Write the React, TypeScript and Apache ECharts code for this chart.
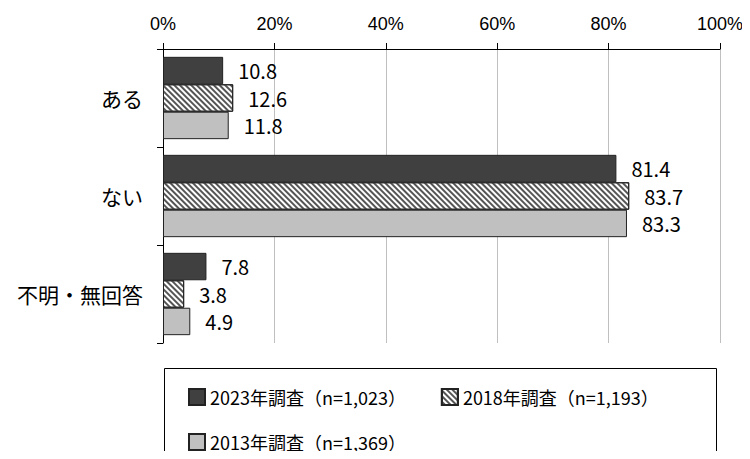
import React, { useEffect, useRef } from "react";
import * as echarts from "echarts";

const categories = ["ある", "ない", "不明・無回答"];
const seriesNames = ["2023年調査（n=1,023）", "2018年調査（n=1,193）", "2013年調査（n=1,369）"];
const values2023 = [10.8, 81.4, 7.8];
const values2018 = [12.6, 83.7, 3.8];
const values2013 = [11.8, 83.3, 4.9];
const xTicks = [0, 20, 40, 60, 80, 100];

const NARROW = '"Liberation Sans Narrow", "Arial Narrow", "Liberation Sans", sans-serif';
const JP = '"Noto Sans CJK JP", sans-serif';

export default function App() {
  const ref = useRef<HTMLDivElement>(null);
  useEffect(() => {
    if (!ref.current) return;
    const chart = echarts.init(ref.current, null, { renderer: "svg" });
    const label = {
      show: true,
      position: "right",
      distance: 15,
      color: "#000",
      fontSize: 20,
      fontFamily: JP,
      formatter: (p: any) => Number(p.value).toFixed(1),
    };
    const border = { borderColor: "#222", borderWidth: 1 };
    const legendText = { color: "#000", fontSize: 18, fontFamily: JP };
    chart.setOption({
      animation: false,
      backgroundColor: "#fff",
      grid: { left: 163, right: 30, top: 49, bottom: 116, containLabel: false },
      xAxis: {
        type: "value",
        position: "top",
        min: xTicks[0],
        max: xTicks[xTicks.length - 1],
        interval: 20,
        axisLine: { show: true, lineStyle: { color: "#000", width: 1 } },
        axisTick: { show: true, length: 6, lineStyle: { color: "#000" } },
        axisLabel: { formatter: "{value}%", color: "#000", fontSize: 18, fontFamily: NARROW, margin: 16 },
        splitLine: { show: true, lineStyle: { color: "#c0c0c0", width: 1 } },
      },
      yAxis: {
        type: "category",
        data: categories,
        inverse: true,
        axisLine: { show: true, lineStyle: { color: "#000", width: 1 } },
        axisTick: { show: true, length: 6, lineStyle: { color: "#000" } },
        axisLabel: { color: "#000", fontSize: 21, fontFamily: JP, margin: 20 },
      },
      legend: [
        {
          data: [seriesNames[0], seriesNames[1]],
          left: 183,
          top: 383,
          itemWidth: 16,
          itemHeight: 16,
          itemGap: 35,
          icon: "rect",
          textStyle: legendText,
        },
        {
          data: [seriesNames[2]],
          left: 183,
          top: 428,
          itemWidth: 16,
          itemHeight: 16,
          icon: "rect",
          textStyle: legendText,
        },
      ],
      graphic: [
        {
          type: "rect",
          shape: { x: 164.5, y: 368.5, width: 552, height: 120 },
          style: { fill: "none", stroke: "#000", lineWidth: 1 },
          z: -1,
        },
      ],
      series: [
        {
          name: seriesNames[0],
          type: "bar",
          data: values2023,
          barGap: "0%",
          barCategoryGap: "16%",
          itemStyle: { color: "#404040", ...border },
          label,
        },
        {
          name: seriesNames[1],
          type: "bar",
          data: values2018,
          barGap: "0%",
          barCategoryGap: "16%",
          itemStyle: {
            color: "#ffffff",
            ...border,
            decal: {
              symbol: "rect",
              symbolSize: 1,
              dashArrayX: [1, 0],
              dashArrayY: [2, 2],
              rotation: Math.PI / 4,
              color: "#555555",
            },
          },
          label,
        },
        {
          name: seriesNames[2],
          type: "bar",
          data: values2013,
          barGap: "0%",
          barCategoryGap: "16%",
          itemStyle: { color: "#c0c0c0", ...border },
          label,
        },
      ],
    });
    return () => chart.dispose();
  }, []);
  return <div ref={ref} style={{ width: 750, height: 459, margin: -8 }} />;
}
